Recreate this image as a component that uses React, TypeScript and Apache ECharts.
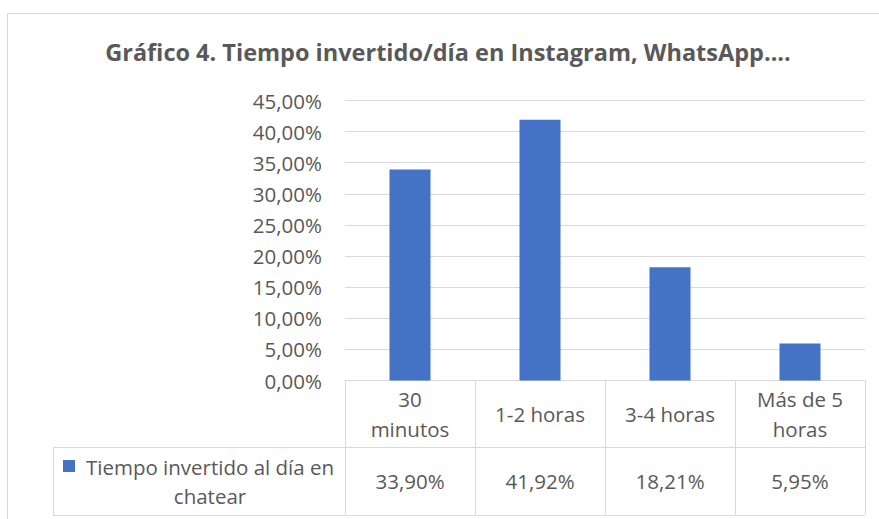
import React, { useEffect, useRef } from "react";
import * as echarts from "echarts";

const titleText = "Gráfico 4. Tiempo invertido/día en Instagram, WhatsApp....";
const categories = ["30\nminutos", "1-2 horas", "3-4 horas", "Más de 5\nhoras"];
const values = [33.9, 41.92, 18.21, 5.95];
const seriesName = "Tiempo invertido al día en\nchatear";
const yMin = 0;
const yMax = 45;
const yStep = 5;

const fmt = (v: number) => v.toFixed(2).replace(".", ",") + "%";

const FONT = "Open Sans";
const TXT = "#595959";
const LINE = "#d9d9d9";
const BAR = "#4472C4";
const FS = 20.5;

export default function App() {
  const ref = useRef<HTMLDivElement>(null);
  useEffect(() => {
    if (!ref.current) return;
    const chart = echarts.init(ref.current, undefined, { renderer: "svg" });
    const gridLeft = 345;
    const gridRight = 865;
    const gridTop = 100.5;
    const gridBottomY = 380.5;
    chart.setOption({
      animation: false,
      backgroundColor: "#ffffff",
      textStyle: { fontFamily: FONT },
      grid: {
        left: gridLeft,
        right: 879 - gridRight,
        top: gridTop,
        bottom: 519 - gridBottomY,
        containLabel: false,
      },
      xAxis: [
        {
          type: "category",
          data: categories,
          position: "bottom",
          axisLine: { show: true, lineStyle: { color: LINE, width: 1 } },
          axisTick: { show: true, length: 134, interval: 0, lineStyle: { color: LINE, width: 1 } },
          axisLabel: {
            interval: 0,
            margin: 33,
            color: TXT,
            fontSize: FS,
            fontFamily: FONT,
            lineHeight: 30,
            verticalAlign: "middle",
            align: "center",
          },
          splitLine: { show: false },
        },
        {
          type: "category",
          data: values.map(fmt),
          position: "bottom",
          axisLine: { show: false },
          axisTick: { show: false },
          axisLabel: {
            interval: 0,
            margin: 100,
            color: TXT,
            fontSize: FS,
            fontFamily: FONT,
            verticalAlign: "middle",
          },
          splitLine: { show: false },
        },
      ],
      yAxis: {
        type: "value",
        min: yMin,
        max: yMax,
        interval: yStep,
        axisLine: { show: false },
        axisTick: { show: false },
        axisLabel: {
          margin: 23,
          color: TXT,
          fontSize: FS,
          fontFamily: FONT,
          formatter: (v: number) => fmt(v),
        },
        splitLine: { show: true, lineStyle: { color: LINE, width: 1 } },
      },
      series: [
        {
          type: "bar",
          name: seriesName,
          xAxisIndex: 0,
          data: values,
          barWidth: 41,
          itemStyle: { color: BAR },
        },
      ],
      graphic: [
        {
          type: "rect",
          shape: { x: 7.5, y: 13.5, width: 1000, height: 1000 },
          style: { fill: "none", stroke: LINE, lineWidth: 1 },
          silent: true,
          z: -10,
        },
        {
          type: "text",
          x: 448,
          y: 52,
          style: {
            text: titleText,
            fill: TXT,
            font: `bold 23.5px '${FONT}'`,
            textAlign: "center",
            textVerticalAlign: "middle",
          },
        },
        {
          type: "line",
          shape: { x1: 53, y1: 447.5, x2: gridRight, y2: 447.5 },
          style: { stroke: LINE, lineWidth: 1 },
        },
        {
          type: "line",
          shape: { x1: 53, y1: 515.5, x2: gridRight, y2: 515.5 },
          style: { stroke: LINE, lineWidth: 1 },
        },
        {
          type: "line",
          shape: { x1: 53.5, y1: 447, x2: 53.5, y2: 516 },
          style: { stroke: LINE, lineWidth: 1 },
        },
        {
          type: "rect",
          shape: { x: 63, y: 460, width: 12, height: 12 },
          style: { fill: BAR },
        },
        {
          type: "text",
          x: 210,
          y: 481,
          style: {
            text: seriesName,
            fill: TXT,
            font: `${FS}px '${FONT}'`,
            lineHeight: 29,
            textAlign: "center",
            textVerticalAlign: "middle",
          },
        },
      ],
    });
    return () => chart.dispose();
  }, []);
  return (
    <div
      ref={ref}
      style={{ position: "fixed", left: 0, top: 0, width: 879, height: 519, background: "#fff" }}
    />
  );
}
